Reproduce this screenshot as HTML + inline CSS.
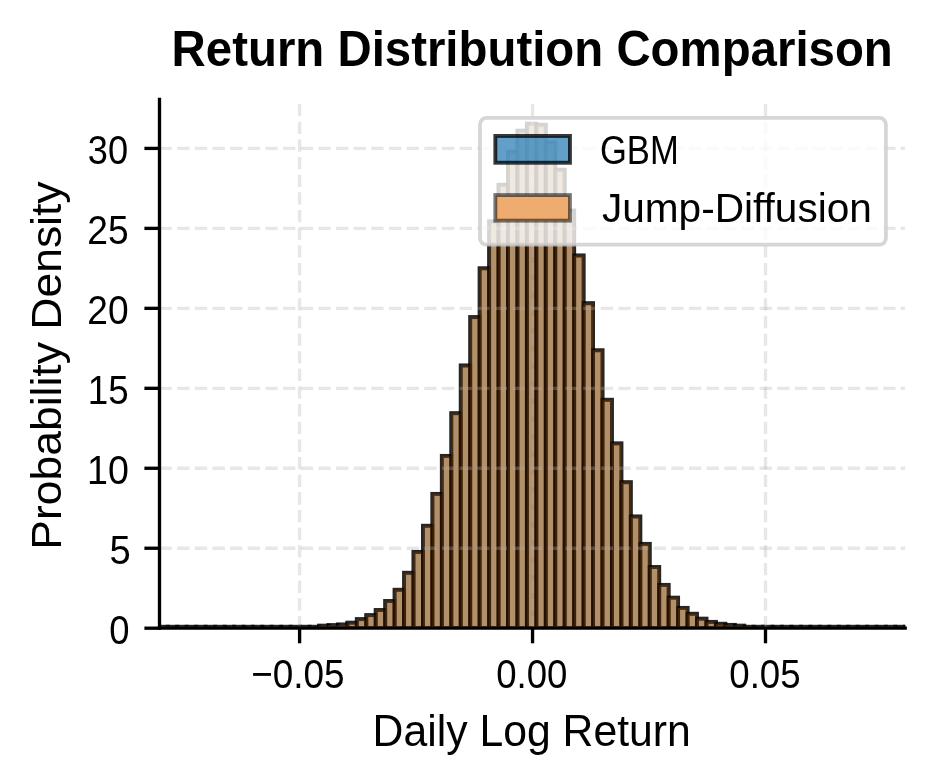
<!DOCTYPE html><html><head><meta charset="utf-8"><style>html,body{margin:0;padding:0;background:#fff;}svg{display:block;will-change:transform;}</style></head><body><svg width="934" height="784" viewBox="0 0 934 784"><defs><clipPath id="ax"><rect x="159.5" y="99.5" width="745.7" height="528.7"/></clipPath></defs><rect width="934" height="784" fill="#fff"/><g fill="#1f77b4" fill-opacity="0.7" stroke="#000" stroke-opacity="0.7" stroke-width="3.9" stroke-linejoin="miter" clip-path="url(#ax)"><rect x="158.39" y="626.80" width="9.449" height="1.40"/><rect x="167.84" y="626.80" width="9.449" height="1.40"/><rect x="177.29" y="626.80" width="9.449" height="1.40"/><rect x="186.74" y="626.80" width="9.449" height="1.40"/><rect x="196.19" y="626.80" width="9.449" height="1.40"/><rect x="205.64" y="626.80" width="9.449" height="1.40"/><rect x="215.09" y="626.80" width="9.449" height="1.40"/><rect x="224.53" y="626.80" width="9.449" height="1.40"/><rect x="233.98" y="626.80" width="9.449" height="1.40"/><rect x="243.43" y="626.80" width="9.449" height="1.40"/><rect x="252.88" y="626.80" width="9.449" height="1.40"/><rect x="262.33" y="626.80" width="9.449" height="1.40"/><rect x="271.78" y="626.80" width="9.449" height="1.40"/><rect x="281.23" y="626.80" width="9.449" height="1.40"/><rect x="290.68" y="626.80" width="9.449" height="1.40"/><rect x="300.13" y="626.80" width="9.449" height="1.40"/><rect x="309.57" y="626.80" width="9.449" height="1.40"/><rect x="319.02" y="625.70" width="9.449" height="2.50"/><rect x="328.47" y="625.10" width="9.449" height="3.10"/><rect x="337.92" y="624.50" width="9.449" height="3.70"/><rect x="347.37" y="622.70" width="9.449" height="5.50"/><rect x="356.82" y="619.10" width="9.449" height="9.10"/><rect x="366.27" y="615.10" width="9.449" height="13.10"/><rect x="375.72" y="610.00" width="9.449" height="18.20"/><rect x="385.17" y="601.00" width="9.449" height="27.20"/><rect x="394.62" y="589.80" width="9.449" height="38.40"/><rect x="404.06" y="572.80" width="9.449" height="55.40"/><rect x="413.51" y="551.90" width="9.449" height="76.30"/><rect x="422.96" y="525.80" width="9.449" height="102.40"/><rect x="432.41" y="493.90" width="9.449" height="134.30"/><rect x="441.86" y="455.90" width="9.449" height="172.30"/><rect x="451.31" y="413.20" width="9.449" height="215.00"/><rect x="460.76" y="365.50" width="9.449" height="262.70"/><rect x="470.21" y="317.10" width="9.449" height="311.10"/><rect x="479.66" y="268.30" width="9.449" height="359.90"/><rect x="489.11" y="221.40" width="9.449" height="406.80"/><rect x="498.55" y="184.80" width="9.449" height="443.40"/><rect x="508.00" y="151.80" width="9.449" height="476.40"/><rect x="517.45" y="130.70" width="9.449" height="497.50"/><rect x="526.90" y="123.70" width="9.449" height="504.50"/><rect x="536.35" y="124.80" width="9.449" height="503.40"/><rect x="545.80" y="142.60" width="9.449" height="485.60"/><rect x="555.25" y="169.70" width="9.449" height="458.50"/><rect x="564.70" y="210.60" width="9.449" height="417.60"/><rect x="574.15" y="255.50" width="9.449" height="372.70"/><rect x="583.60" y="303.20" width="9.449" height="325.00"/><rect x="593.04" y="350.30" width="9.449" height="277.90"/><rect x="602.49" y="399.80" width="9.449" height="228.40"/><rect x="611.94" y="443.40" width="9.449" height="184.80"/><rect x="621.39" y="482.20" width="9.449" height="146.00"/><rect x="630.84" y="516.50" width="9.449" height="111.70"/><rect x="640.29" y="543.90" width="9.449" height="84.30"/><rect x="649.74" y="567.00" width="9.449" height="61.20"/><rect x="659.19" y="584.90" width="9.449" height="43.30"/><rect x="668.64" y="597.70" width="9.449" height="30.50"/><rect x="678.09" y="607.90" width="9.449" height="20.30"/><rect x="687.53" y="613.80" width="9.449" height="14.40"/><rect x="696.98" y="618.70" width="9.449" height="9.50"/><rect x="706.43" y="621.90" width="9.449" height="6.30"/><rect x="715.88" y="623.80" width="9.449" height="4.40"/><rect x="725.33" y="624.90" width="9.449" height="3.30"/><rect x="734.78" y="625.70" width="9.449" height="2.50"/><rect x="744.23" y="626.80" width="9.449" height="1.40"/><rect x="753.68" y="626.80" width="9.449" height="1.40"/><rect x="763.13" y="626.80" width="9.449" height="1.40"/><rect x="772.58" y="626.80" width="9.449" height="1.40"/><rect x="782.02" y="626.80" width="9.449" height="1.40"/><rect x="791.47" y="626.80" width="9.449" height="1.40"/><rect x="800.92" y="626.80" width="9.449" height="1.40"/><rect x="810.37" y="626.80" width="9.449" height="1.40"/><rect x="819.82" y="626.80" width="9.449" height="1.40"/><rect x="829.27" y="626.80" width="9.449" height="1.40"/><rect x="838.72" y="626.80" width="9.449" height="1.40"/><rect x="848.17" y="626.80" width="9.449" height="1.40"/><rect x="857.62" y="626.80" width="9.449" height="1.40"/><rect x="867.07" y="626.80" width="9.449" height="1.40"/><rect x="876.51" y="626.80" width="9.449" height="1.40"/><rect x="885.96" y="626.80" width="9.449" height="1.40"/><rect x="895.41" y="626.80" width="9.449" height="1.40"/><rect x="904.86" y="626.80" width="9.449" height="1.40"/></g><g fill="#ff7f0e" fill-opacity="0.5" stroke="#000" stroke-opacity="0.5" stroke-width="3.9" stroke-linejoin="miter" clip-path="url(#ax)"><rect x="158.39" y="626.80" width="9.449" height="1.40"/><rect x="167.84" y="626.80" width="9.449" height="1.40"/><rect x="177.29" y="626.80" width="9.449" height="1.40"/><rect x="186.74" y="626.80" width="9.449" height="1.40"/><rect x="196.19" y="626.80" width="9.449" height="1.40"/><rect x="205.64" y="626.80" width="9.449" height="1.40"/><rect x="215.09" y="626.80" width="9.449" height="1.40"/><rect x="224.53" y="626.80" width="9.449" height="1.40"/><rect x="233.98" y="626.80" width="9.449" height="1.40"/><rect x="243.43" y="626.80" width="9.449" height="1.40"/><rect x="252.88" y="626.80" width="9.449" height="1.40"/><rect x="262.33" y="626.80" width="9.449" height="1.40"/><rect x="271.78" y="626.80" width="9.449" height="1.40"/><rect x="281.23" y="626.80" width="9.449" height="1.40"/><rect x="290.68" y="626.80" width="9.449" height="1.40"/><rect x="300.13" y="626.80" width="9.449" height="1.40"/><rect x="309.57" y="626.80" width="9.449" height="1.40"/><rect x="319.02" y="625.70" width="9.449" height="2.50"/><rect x="328.47" y="625.10" width="9.449" height="3.10"/><rect x="337.92" y="624.50" width="9.449" height="3.70"/><rect x="347.37" y="622.70" width="9.449" height="5.50"/><rect x="356.82" y="619.10" width="9.449" height="9.10"/><rect x="366.27" y="615.10" width="9.449" height="13.10"/><rect x="375.72" y="610.00" width="9.449" height="18.20"/><rect x="385.17" y="601.00" width="9.449" height="27.20"/><rect x="394.62" y="589.80" width="9.449" height="38.40"/><rect x="404.06" y="572.80" width="9.449" height="55.40"/><rect x="413.51" y="551.90" width="9.449" height="76.30"/><rect x="422.96" y="525.80" width="9.449" height="102.40"/><rect x="432.41" y="493.90" width="9.449" height="134.30"/><rect x="441.86" y="455.90" width="9.449" height="172.30"/><rect x="451.31" y="413.20" width="9.449" height="215.00"/><rect x="460.76" y="365.50" width="9.449" height="262.70"/><rect x="470.21" y="317.10" width="9.449" height="311.10"/><rect x="479.66" y="268.30" width="9.449" height="359.90"/><rect x="489.11" y="221.40" width="9.449" height="406.80"/><rect x="498.55" y="184.80" width="9.449" height="443.40"/><rect x="508.00" y="151.80" width="9.449" height="476.40"/><rect x="517.45" y="130.70" width="9.449" height="497.50"/><rect x="526.90" y="123.70" width="9.449" height="504.50"/><rect x="536.35" y="124.80" width="9.449" height="503.40"/><rect x="545.80" y="142.60" width="9.449" height="485.60"/><rect x="555.25" y="169.70" width="9.449" height="458.50"/><rect x="564.70" y="210.60" width="9.449" height="417.60"/><rect x="574.15" y="255.50" width="9.449" height="372.70"/><rect x="583.60" y="303.20" width="9.449" height="325.00"/><rect x="593.04" y="350.30" width="9.449" height="277.90"/><rect x="602.49" y="399.80" width="9.449" height="228.40"/><rect x="611.94" y="443.40" width="9.449" height="184.80"/><rect x="621.39" y="482.20" width="9.449" height="146.00"/><rect x="630.84" y="516.50" width="9.449" height="111.70"/><rect x="640.29" y="543.90" width="9.449" height="84.30"/><rect x="649.74" y="567.00" width="9.449" height="61.20"/><rect x="659.19" y="584.90" width="9.449" height="43.30"/><rect x="668.64" y="597.70" width="9.449" height="30.50"/><rect x="678.09" y="607.90" width="9.449" height="20.30"/><rect x="687.53" y="613.80" width="9.449" height="14.40"/><rect x="696.98" y="618.70" width="9.449" height="9.50"/><rect x="706.43" y="621.90" width="9.449" height="6.30"/><rect x="715.88" y="623.80" width="9.449" height="4.40"/><rect x="725.33" y="624.90" width="9.449" height="3.30"/><rect x="734.78" y="625.70" width="9.449" height="2.50"/><rect x="744.23" y="626.80" width="9.449" height="1.40"/><rect x="753.68" y="626.80" width="9.449" height="1.40"/><rect x="763.13" y="626.80" width="9.449" height="1.40"/><rect x="772.58" y="626.80" width="9.449" height="1.40"/><rect x="782.02" y="626.80" width="9.449" height="1.40"/><rect x="791.47" y="626.80" width="9.449" height="1.40"/><rect x="800.92" y="626.80" width="9.449" height="1.40"/><rect x="810.37" y="626.80" width="9.449" height="1.40"/><rect x="819.82" y="626.80" width="9.449" height="1.40"/><rect x="829.27" y="626.80" width="9.449" height="1.40"/><rect x="838.72" y="626.80" width="9.449" height="1.40"/><rect x="848.17" y="626.80" width="9.449" height="1.40"/><rect x="857.62" y="626.80" width="9.449" height="1.40"/><rect x="867.07" y="626.80" width="9.449" height="1.40"/><rect x="876.51" y="626.80" width="9.449" height="1.40"/><rect x="885.96" y="626.80" width="9.449" height="1.40"/><rect x="895.41" y="626.80" width="9.449" height="1.40"/><rect x="904.86" y="626.80" width="9.449" height="1.40"/></g><g stroke="#b0b0b0" stroke-opacity="0.3" stroke-width="3.33" stroke-dasharray="12.32 5.33" clip-path="url(#ax)"><line x1="159.5" y1="628.20" x2="905.2" y2="628.20"/><line x1="159.5" y1="548.24" x2="905.2" y2="548.24"/><line x1="159.5" y1="468.27" x2="905.2" y2="468.27"/><line x1="159.5" y1="388.31" x2="905.2" y2="388.31"/><line x1="159.5" y1="308.34" x2="905.2" y2="308.34"/><line x1="159.5" y1="228.38" x2="905.2" y2="228.38"/><line x1="159.5" y1="148.41" x2="905.2" y2="148.41"/><line x1="299.60" y1="628.2" x2="299.60" y2="99.5"/><line x1="532.55" y1="628.2" x2="532.55" y2="99.5"/><line x1="765.50" y1="628.2" x2="765.50" y2="99.5"/></g><g stroke="#000" stroke-width="3.33" stroke-linecap="square" fill="none"><line x1="159.5" y1="628.2" x2="159.5" y2="99.5"/><line x1="159.5" y1="628.2" x2="905.2" y2="628.2"/></g><g stroke="#000" stroke-width="3.33"><line x1="144.40" y1="628.20" x2="159.5" y2="628.20"/><line x1="144.40" y1="548.24" x2="159.5" y2="548.24"/><line x1="144.40" y1="468.27" x2="159.5" y2="468.27"/><line x1="144.40" y1="388.31" x2="159.5" y2="388.31"/><line x1="144.40" y1="308.34" x2="159.5" y2="308.34"/><line x1="144.40" y1="228.38" x2="159.5" y2="228.38"/><line x1="144.40" y1="148.41" x2="159.5" y2="148.41"/><line x1="299.60" y1="628.2" x2="299.60" y2="643.30"/><line x1="532.55" y1="628.2" x2="532.55" y2="643.30"/><line x1="765.50" y1="628.2" x2="765.50" y2="643.30"/></g><g font-family="Liberation Sans, sans-serif" fill="#000"><text x="109.28" y="643.60" font-size="40.8" font-weight="normal" textLength="20.26" lengthAdjust="spacingAndGlyphs">0</text><text x="109.47" y="563.63" font-size="40.8" font-weight="normal" textLength="21.26" lengthAdjust="spacingAndGlyphs">5</text><text x="87.07" y="483.67" font-size="40.8" font-weight="normal" textLength="41.82" lengthAdjust="spacingAndGlyphs">10</text><text x="87.73" y="403.71" font-size="40.8" font-weight="normal" textLength="40.92" lengthAdjust="spacingAndGlyphs">15</text><text x="87.26" y="323.74" font-size="40.8" font-weight="normal" textLength="41.30" lengthAdjust="spacingAndGlyphs">20</text><text x="87.26" y="243.78" font-size="40.8" font-weight="normal" textLength="41.40" lengthAdjust="spacingAndGlyphs">25</text><text x="87.87" y="163.81" font-size="40.8" font-weight="normal" textLength="40.26" lengthAdjust="spacingAndGlyphs">30</text><text x="251.24" y="688.10" font-size="40.8" font-weight="normal" textLength="93.42" lengthAdjust="spacingAndGlyphs">−0.05</text><text x="496.28" y="688.10" font-size="40.8" font-weight="normal" textLength="71.15" lengthAdjust="spacingAndGlyphs">0.00</text><text x="729.27" y="688.10" font-size="40.8" font-weight="normal" textLength="71.33" lengthAdjust="spacingAndGlyphs">0.05</text><text x="372.62" y="745.90" font-size="44.2" font-weight="normal" textLength="318.16" lengthAdjust="spacingAndGlyphs">Daily Log Return</text><text x="0" y="0" font-size="43.3" transform="translate(61.1,549.77) rotate(-90)" textLength="368.38" lengthAdjust="spacingAndGlyphs">Probability Density</text><text x="171.60" y="66.00" font-size="49.4" font-weight="bold" textLength="721.21" lengthAdjust="spacingAndGlyphs">Return Distribution Comparison</text></g><rect x="480.0" y="117.9" width="405.9" height="126.79999999999998" rx="6.5" ry="6.5" fill="#fff" fill-opacity="0.8"/><rect x="480.0" y="117.9" width="405.9" height="126.79999999999998" rx="6.5" ry="6.5" fill="none" stroke="#ccc" stroke-opacity="0.8" stroke-width="3.8"/><rect x="495.35" y="135.95" width="74.60" height="26.80" fill="#1f77b4" fill-opacity="0.7" stroke="#000" stroke-opacity="0.78" stroke-width="3.9"/><rect x="495.35" y="195.05" width="74.60" height="25.60" fill="#eeac70" stroke="#000" stroke-opacity="0.52" stroke-width="3.9"/><g font-family="Liberation Sans, sans-serif" fill="#000"><text x="599.95" y="163.60" font-size="40.0" font-weight="normal" textLength="78.75" lengthAdjust="spacingAndGlyphs">GBM</text><text x="601.90" y="222.20" font-size="40.0" font-weight="normal" textLength="270.00" lengthAdjust="spacingAndGlyphs">Jump-Diffusion</text></g></svg></body></html>
